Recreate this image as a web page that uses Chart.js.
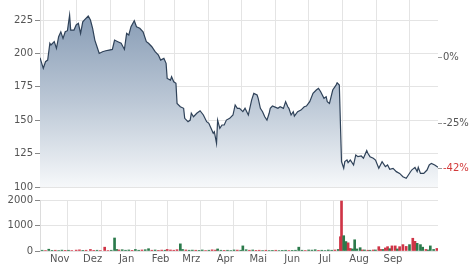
<!DOCTYPE html>
<html>
<head>
<meta charset="utf-8">
<script src="https://cdn.jsdelivr.net/npm/chart.js@4.4.1/dist/chart.umd.min.js"></script>
<style>
	html, body { margin: 0; padding: 0; background: #fff; }
	#wrap { position: relative; width: 474px; height: 269px; }
	#priceChart { position: absolute; left: 0; top: 0; }
	#volumeChart { position: absolute; left: 0; top: 190px; }
</style>
</head>
<body>
<div id="wrap">
	<canvas id="priceChart" width="474" height="190"></canvas>
	<canvas id="volumeChart" width="474" height="79"></canvas>
</div>
<script>
// days counted from the first trading day (end of October)
const monthStartDays = [3, 33, 64, 95, 123, 154, 184, 215, 245, 276, 307, 337];
const monthLabelDays = [18, 48, 79, 110, 138, 169, 199, 230, 260, 291, 322];
const monthLabels = ['Nov', 'Dez', 'Jan', 'Feb', 'Mrz', 'Apr', 'Mai', 'Jun', 'Jul', 'Aug', 'Sep'];

const priceTicks = [100, 125, 150, 175, 200, 225];
const percentTicks = [0, -25, -42];
const volumeTicks = [0, 1000, 2000];

const priceDays = [
	0, 3, 5, 7, 9, 10, 13, 15, 17, 19, 21, 23, 25, 27, 28, 31, 33, 35, 37, 39,
	41, 44, 46, 48, 50, 52, 54, 57, 60, 63, 66, 68, 71, 74, 77, 79, 81, 83, 86, 88,
	91, 94, 97, 99, 102, 105, 108, 110, 113, 115, 116, 119, 120, 122, 124, 125, 128, 131, 132, 135,
	137, 138, 140, 143, 146, 149, 152, 154, 156, 158, 159, 161, 162, 164, 166, 168, 170, 173, 176, 178,
	180, 182, 185, 187, 190, 193, 195, 198, 199, 201, 203, 205, 207, 209, 210, 212, 215, 217, 219, 222,
	224, 226, 227, 229, 231, 232, 235, 238, 241, 243, 246, 249, 252, 254, 256, 259, 261, 262, 264, 267,
	268, 270, 271, 273, 275, 277, 278, 280, 281, 283, 284, 286, 288, 290, 293, 295, 298, 299, 301, 304,
	306, 309, 312, 315, 317, 319, 322, 325, 328, 331, 334, 336, 339, 342, 344, 345, 347, 350, 353, 355,
	357, 360, 363
];
const prices = [
	196.8, 188.8, 193.8, 195.0, 207.6, 206.3, 208.8, 203.8, 212.5, 216.2, 211.3, 216.2, 217.0, 228.7, 217.5, 217.5, 221.3, 222.5, 215.0, 223.7,
	225.5, 228.0, 225.0, 218.8, 210.0, 205.0, 200.0, 201.3, 202.0, 202.5, 203.0, 210.0, 208.8, 207.6, 203.0, 215.0, 213.8, 220.0, 224.5, 220.0,
	218.8, 216.2, 208.8, 207.6, 205.0, 201.3, 198.8, 195.0, 196.3, 192.6, 181.3, 180.0, 182.6, 178.8, 177.6, 162.6, 160.1, 158.9, 151.4, 148.9,
	150.1, 155.2, 152.6, 155.2, 157.1, 153.9, 148.9, 147.7, 143.9, 140.2, 141.4, 132.7, 150.1, 143.9, 146.4, 146.4, 150.1, 151.4, 153.9, 161.4,
	158.9, 158.9, 156.4, 158.9, 153.9, 165.1, 170.1, 168.9, 166.4, 158.9, 156.4, 152.6, 150.1, 155.2, 158.9, 160.6, 159.6, 158.9, 160.1, 158.9,
	163.9, 160.1, 158.9, 153.9, 156.4, 153.1, 156.4, 157.6, 160.1, 160.6, 163.9, 170.1, 172.6, 173.9, 171.3, 166.4, 167.6, 163.9, 162.6, 172.6,
	173.9, 176.3, 178.0, 176.3, 119.0, 114.0, 119.0, 120.2, 118.2, 120.2, 119.0, 116.5, 124.0, 122.7, 123.2, 121.5, 127.2, 125.2, 122.7, 121.5,
	120.2, 114.0, 119.0, 115.2, 116.5, 113.3, 114.0, 111.5, 110.2, 107.7, 106.5, 109.0, 112.7, 114.7, 111.5, 114.7, 110.2, 110.2, 112.7, 116.5,
	117.7, 116.5, 114.7
];

const volumeDays = [
	2, 5, 8, 11, 14, 17, 20, 23, 26, 29, 33, 36, 39, 42, 46, 49, 52, 55, 59, 62,
	65, 68, 70, 72, 75, 78, 81, 84, 87, 90, 93, 96, 99, 102, 105, 108, 111, 114, 116, 119,
	122, 125, 128, 130, 133, 136, 139, 142, 145, 148, 151, 154, 157, 160, 162, 165, 168, 171, 174, 177,
	180, 183, 185, 188, 191, 194, 197, 200, 203, 206, 209, 212, 215, 218, 221, 224, 227, 230, 233, 236,
	239, 242, 245, 248, 251, 254, 257, 260, 263, 266, 269, 272, 274, 275, 277, 279, 281, 283, 285, 287,
	289, 292, 294, 296, 299, 301, 304, 306, 309, 311, 313, 315, 317, 319, 321, 324, 326, 328, 331, 334,
	337, 340, 342, 344, 347, 349, 352, 354, 356, 359, 362
];
const volumes = [
	30, 20, 70, 25, 30, 20, 35, 25, 30, 20, 35, 45, 25, 30, 60, 25, 30, 20, 150, 20,
	30, 510, 60, 40, 50, 30, 40, 25, 60, 30, 40, 50, 90, 30, 40, 25, 35, 30, 60, 40,
	30, 50, 280, 60, 40, 30, 35, 30, 25, 40, 20, 30, 45, 35, 80, 30, 25, 30, 20, 40,
	35, 30, 200, 50, 30, 40, 25, 30, 20, 30, 20, 25, 30, 20, 25, 30, 20, 25, 30, 150,
	30, 20, 40, 35, 50, 25, 30, 20, 40, 30, 40, 60, 560, 1960, 600, 370, 320, 100, 80, 440,
	80, 130, 40, 40, 30, 30, 40, 40, 170, 60, 60, 120, 170, 90, 200, 200, 80, 170, 250, 180,
	250, 500, 380, 300, 250, 150, 60, 40, 200, 60, 100
];
const volumeDirections = [
	'u', 'd', 'u', 'u', 'd', 'u', 'u', 'd', 'u', 'd', 'd', 'd', 'u', 'd', 'd', 'd', 'u', 'd', 'd', 'd',
	'u', 'u', 'u', 'd', 'u', 'u', 'u', 'd', 'u', 'u', 'd', 'u', 'u', 'd', 'u', 'd', 'd', 'u', 'd', 'd',
	'd', 'd', 'u', 'u', 'd', 'u', 'u', 'd', 'u', 'u', 'd', 'u', 'd', 'd', 'u', 'u', 'd', 'u', 'u', 'u',
	'd', 'u', 'u', 'u', 'd', 'u', 'd', 'd', 'u', 'd', 'u', 'u', 'd', 'u', 'u', 'u', 'd', 'u', 'u', 'u',
	'u', 'd', 'u', 'u', 'u', 'd', 'u', 'u', 'u', 'u', 'd', 'u', 'd', 'd', 'u', 'u', 'd', 'd', 'u', 'u',
	'u', 'u', 'd', 'u', 'd', 'u', 'd', 'u', 'd', 'd', 'u', 'd', 'd', 'u', 'd', 'd', 'u', 'd', 'd', 'd',
	'u', 'd', 'd', 'u', 'u', 'u', 'd', 'u', 'u', 'u', 'd'
];

const FONT = { family: 'DejaVu Sans', size: 10 };
const TEXT_COLOR = '#555';
const GRID_COLOR = '#e4e4e4';
const X_MAX = 363;
const PRICE_MIN = 100;
const PRICE_MAX = 240;
const basePrice = prices[0];

function noEdgePadding(scale) {
	scale.paddingTop = 0;
	scale.paddingBottom = 0;
	scale.paddingLeft = 0;
	scale.paddingRight = 0;
}

function monthGridColor(context) {
	if (context.tick && monthStartDays.includes(context.tick.value)) return GRID_COLOR;
	return 'rgba(0,0,0,0)';
}

function priceFill(context) {
	const area = context.chart.chartArea;
	if (!area) return 'rgba(130,150,175,0.5)';
	const g = context.chart.ctx.createLinearGradient(0, area.top, 0, area.bottom);
	g.addColorStop(0, '#7f95b0');
	g.addColorStop(0.55, '#bcc8d6');
	g.addColorStop(1, '#f6f8fa');
	return g;
}

new Chart(document.getElementById('priceChart'), {
	type: 'line',
	data: {
		datasets: [{
			data: priceDays.map((d, i) => ({ x: d, y: prices[i] })),
			borderColor: '#2f4259',
			borderWidth: 1.2,
			backgroundColor: priceFill,
			fill: 'start',
			pointRadius: 0,
			tension: 0
		}]
	},
	options: {
		responsive: false,
		animation: false,
		layout: { padding: { top: 0, bottom: 3, left: 0, right: 0 } },
		plugins: { legend: { display: false }, tooltip: { enabled: false } },
		scales: {
			x: {
				type: 'linear',
				min: 0,
				max: X_MAX,
				offset: false,
				afterBuildTicks: s => { s.ticks = monthStartDays.map(v => ({ value: v })); },
				afterFit: s => { s.height = 0; noEdgePadding(s); },
				ticks: { display: false },
				grid: { color: monthGridColor, drawTicks: false },
				border: { display: false }
			},
			y: {
				position: 'left',
				min: PRICE_MIN,
				max: PRICE_MAX,
				afterBuildTicks: s => { s.ticks = priceTicks.map(v => ({ value: v })); },
				afterFit: s => { s.width = 40; noEdgePadding(s); },
				ticks: { font: FONT, color: TEXT_COLOR, padding: 2, callback: v => String(v) },
				grid: { color: GRID_COLOR, tickColor: '#888', tickLength: 5 },
				border: { color: '#dcdcdc' }
			},
			y1: {
				position: 'right',
				min: (PRICE_MIN / basePrice - 1) * 100,
				max: (PRICE_MAX / basePrice - 1) * 100,
				afterBuildTicks: s => { s.ticks = percentTicks.map(v => ({ value: v })); },
				afterFit: s => { s.width = 36; noEdgePadding(s); },
				ticks: {
					font: FONT,
					padding: 1,
					color: ctx => ctx.index === percentTicks.length - 1 ? '#d23a3a' : TEXT_COLOR,
					callback: v => v + '%'
				},
				grid: { drawOnChartArea: false, tickColor: '#999', tickLength: 4 },
				border: { display: false }
			}
		}
	}
});

new Chart(document.getElementById('volumeChart'), {
	type: 'bar',
	data: {
		datasets: [{
			data: volumeDays.map((d, i) => ({ x: d, y: volumes[i] })),
			backgroundColor: volumeDirections.map(c => c === 'u' ? '#2b7a4b' : '#cf3446'),
			barThickness: 2
		}]
	},
	options: {
		responsive: false,
		animation: false,
		layout: { padding: { top: 10, bottom: 0, left: 0, right: 36 } },
		plugins: { legend: { display: false }, tooltip: { enabled: false } },
		scales: {
			x: {
				type: 'linear',
				min: 0,
				max: X_MAX,
				offset: false,
				afterBuildTicks: s => {
					s.ticks = monthStartDays.concat(monthLabelDays).sort((a, b) => a - b).map(v => ({ value: v }));
				},
				afterFit: s => { s.height = 18; noEdgePadding(s); },
				ticks: {
					font: FONT,
					color: TEXT_COLOR,
					padding: 2,
					autoSkip: false,
					maxRotation: 0,
					callback: v => {
						const i = monthLabelDays.indexOf(v);
						return i >= 0 ? monthLabels[i] : '';
					}
				},
				grid: { color: monthGridColor, drawTicks: false },
				border: { display: false }
			},
			y: {
				min: 0,
				max: 2000,
				afterBuildTicks: s => { s.ticks = volumeTicks.map(v => ({ value: v })); },
				afterFit: s => { s.width = 40; noEdgePadding(s); },
				ticks: { font: FONT, color: TEXT_COLOR, padding: 2, callback: v => String(v) },
				grid: { color: GRID_COLOR, tickColor: '#888', tickLength: 5 },
				border: { color: '#dcdcdc' }
			}
		}
	}
});
</script>
</body>
</html>
